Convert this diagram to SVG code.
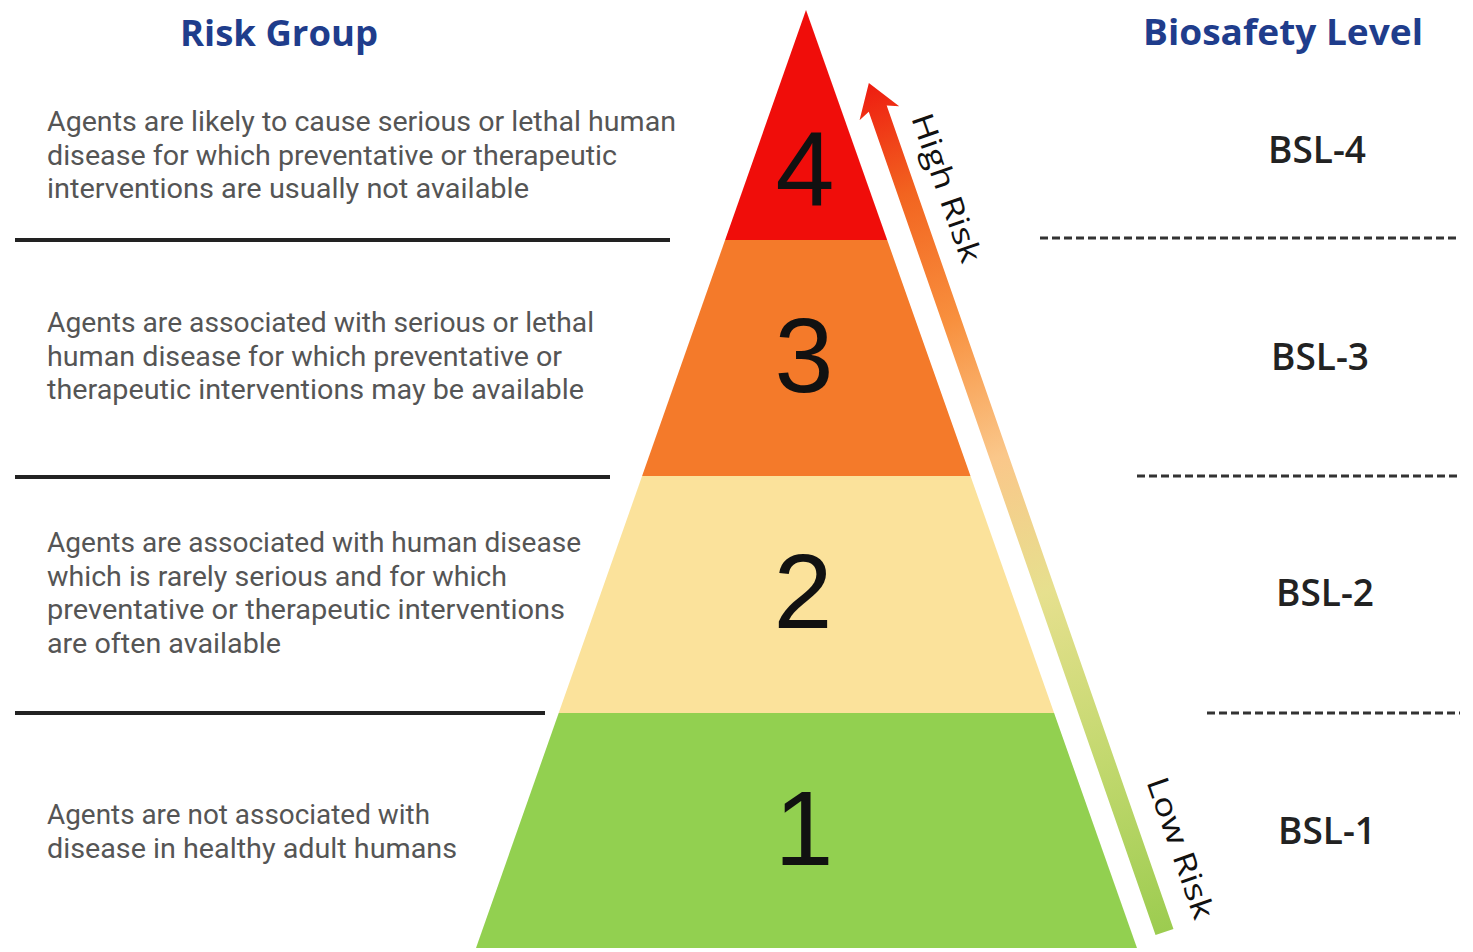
<svg xmlns="http://www.w3.org/2000/svg" width="1473" height="952" viewBox="0 0 1473 952">
<defs>
<linearGradient id="arrowGrad" gradientUnits="userSpaceOnUse" x1="0" y1="0" x2="0" y2="-899">
<stop offset="0" stop-color="#9ccc50"/>
<stop offset="0.2" stop-color="#c2d86e"/>
<stop offset="0.4" stop-color="#e6e08e"/>
<stop offset="0.56" stop-color="#fac78a"/>
<stop offset="0.72" stop-color="#f8903e"/>
<stop offset="0.87" stop-color="#f26420"/>
<stop offset="1" stop-color="#ee1c10"/>
</linearGradient>
<style>
.title{font-family:"Open Sans","Liberation Sans",sans-serif;font-weight:700;font-size:36px;fill:#1f3d8c}
.desc{font-family:Roboto,"Liberation Sans",sans-serif;font-size:27px;fill:#555555}
.num{font-family:"Liberation Sans",Arial,sans-serif;font-size:106px;fill:#111111;text-anchor:middle}
.bsl{font-family:"Open Sans","Liberation Sans",sans-serif;font-weight:600;font-size:37px;fill:#222222;text-anchor:middle}
.risk{font-family:"Open Sans","Liberation Sans",sans-serif;font-weight:500;font-size:30px;fill:#111111;text-anchor:middle}
.solid{stroke:#222222;stroke-width:4;fill:none}
.dash{stroke:#333333;stroke-width:3;stroke-dasharray:8 4;fill:none}
</style>
</defs>
<rect width="1473" height="952" fill="#ffffff"/>

<text class="title" x="180" y="46" textLength="198" lengthAdjust="spacingAndGlyphs">Risk Group</text>
<text class="title" x="1143" y="45" textLength="280" lengthAdjust="spacingAndGlyphs">Biosafety Level</text>

<g id="level4">
<polygon points="806,10 887.2,240 725.1,240" fill="#f00d0a"/>
<text class="num" x="805" y="206">4</text>
<text class="desc" x="47" y="131" textLength="629" lengthAdjust="spacingAndGlyphs">Agents are likely to cause serious or lethal human</text>
<text class="desc" x="47" y="165" textLength="570" lengthAdjust="spacingAndGlyphs">disease for which preventative or therapeutic</text>
<text class="desc" x="47" y="198" textLength="482" lengthAdjust="spacingAndGlyphs">interventions are usually not available</text>
<text class="bsl" x="1317" y="163">BSL-4</text>
</g>

<g id="level3">
<polygon points="725.1,240 887.2,240 970.5,476 642.1,476" fill="#f47a2a"/>
<text class="num" x="804" y="392">3</text>
<text class="desc" x="47" y="332" textLength="547" lengthAdjust="spacingAndGlyphs">Agents are associated with serious or lethal</text>
<text class="desc" x="47" y="366" textLength="515" lengthAdjust="spacingAndGlyphs">human disease for which preventative or</text>
<text class="desc" x="47" y="399" textLength="537" lengthAdjust="spacingAndGlyphs">therapeutic interventions may be available</text>
<text class="bsl" x="1320" y="370">BSL-3</text>
</g>

<g id="level2">
<polygon points="642.1,476 970.5,476 1054.1,713 558.7,713" fill="#fbe29b"/>
<text class="num" x="803" y="628">2</text>
<text class="desc" x="47" y="552" textLength="534" lengthAdjust="spacingAndGlyphs">Agents are associated with human disease</text>
<text class="desc" x="47" y="586" textLength="460" lengthAdjust="spacingAndGlyphs">which is rarely serious and for which</text>
<text class="desc" x="47" y="619" textLength="518" lengthAdjust="spacingAndGlyphs">preventative or therapeutic interventions</text>
<text class="desc" x="47" y="653" textLength="234" lengthAdjust="spacingAndGlyphs">are often available</text>
<text class="bsl" x="1325" y="606">BSL-2</text>
</g>

<g id="level1">
<polygon points="558.7,713 1054.1,713 1137,948 476,948" fill="#92d050"/>
<text class="num" x="804" y="865">1</text>
<text class="desc" x="47" y="824" textLength="383" lengthAdjust="spacingAndGlyphs">Agents are not associated with</text>
<text class="desc" x="47" y="858" textLength="410" lengthAdjust="spacingAndGlyphs">disease in healthy adult humans</text>
<text class="bsl" x="1327" y="844">BSL-1</text>
</g>

<g id="risk-arrow">
<g transform="translate(1164.5,932) rotate(-19.2)">
<polygon points="-9.5,0 9.5,0 9.5,-872 21,-867 0,-899 -21,-867 -9.5,-872" fill="url(#arrowGrad)"/>
</g>
<text class="risk" transform="translate(946,188) rotate(70.8)" x="0" y="10" textLength="156" lengthAdjust="spacingAndGlyphs">High Risk</text>
<text class="risk" transform="translate(1180,848) rotate(70.8)" x="0" y="10" textLength="148" lengthAdjust="spacingAndGlyphs">Low Risk</text>
</g>

<g id="connectors">
<line class="solid" x1="15" y1="240" x2="670" y2="240"/>
<line class="solid" x1="15" y1="477" x2="610" y2="477"/>
<line class="solid" x1="15" y1="713" x2="545" y2="713"/>
<line class="dash" x1="1040" y1="238" x2="1460" y2="238"/>
<line class="dash" x1="1137" y1="476" x2="1460" y2="476"/>
<line class="dash" x1="1207" y1="713" x2="1460" y2="713"/>
</g>
</svg>
